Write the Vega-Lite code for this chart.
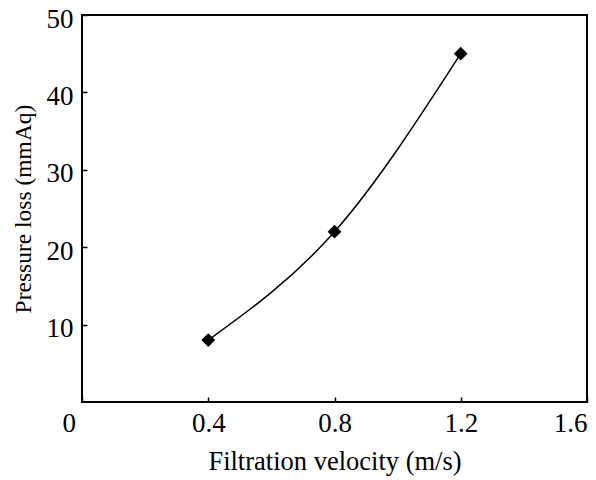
{
  "$schema": "https://vega.github.io/schema/vega-lite/v6.json",
  "width": 505,
  "height": 387,
  "autosize": {"type": "none"},
  "padding": {"left": 82, "top": 15, "right": 9, "bottom": 78},
  "background": "white",
  "config": {
    "view": {"stroke": "black", "strokeWidth": 2},
    "font": "Liberation Serif",
    "axis": {
      "labelFont": "Liberation Serif",
      "titleFont": "Liberation Serif",
      "labelFontSize": 27,
      "titleFontSize": 26.5,
      "labelColor": "black",
      "titleColor": "black",
      "titleFontWeight": "normal",
      "grid": false,
      "domain": false,
      "tickColor": "black",
      "tickWidth": 1.5
    }
  },
  "data": {
    "values": [
      {"velocity": 0.4, "loss": 8},
      {"velocity": 0.8, "loss": 22},
      {"velocity": 1.2, "loss": 45}
    ]
  },
  "layer": [
    {
      "mark": {"type": "line", "interpolate": "monotone", "color": "black", "strokeWidth": 1.5},
      "encoding": {
        "x": {
          "field": "velocity",
          "type": "quantitative",
          "scale": {"domain": [0, 1.6], "nice": false},
          "axis": {
            "title": "Filtration velocity (m/s)",
            "values": [0, 0.4, 0.8, 1.2, 1.6],
            "format": "~g",
            "tickSize": -5,
            "labelPadding": 13,
            "labelOffset": {"condition": {"test": "datum.value == 0", "value": -20}, "value": 0},
            "titlePadding": 12
          }
        },
        "y": {
          "field": "loss",
          "type": "quantitative",
          "scale": {"domain": [0, 50], "nice": false},
          "axis": {
            "title": "Pressure loss (mmAq)",
            "titleFontSize": 23.5,
            "values": [10, 20, 30, 40, 50],
            "tickSize": -5,
            "labelPadding": 14,
            "labelOffset": 4,
            "titlePadding": 11
          }
        }
      }
    },
    {
      "mark": {"type": "point", "shape": "diamond", "filled": true, "color": "black", "opacity": 1, "size": 190},
      "encoding": {
        "x": {"field": "velocity", "type": "quantitative"},
        "y": {"field": "loss", "type": "quantitative"}
      }
    }
  ]
}
